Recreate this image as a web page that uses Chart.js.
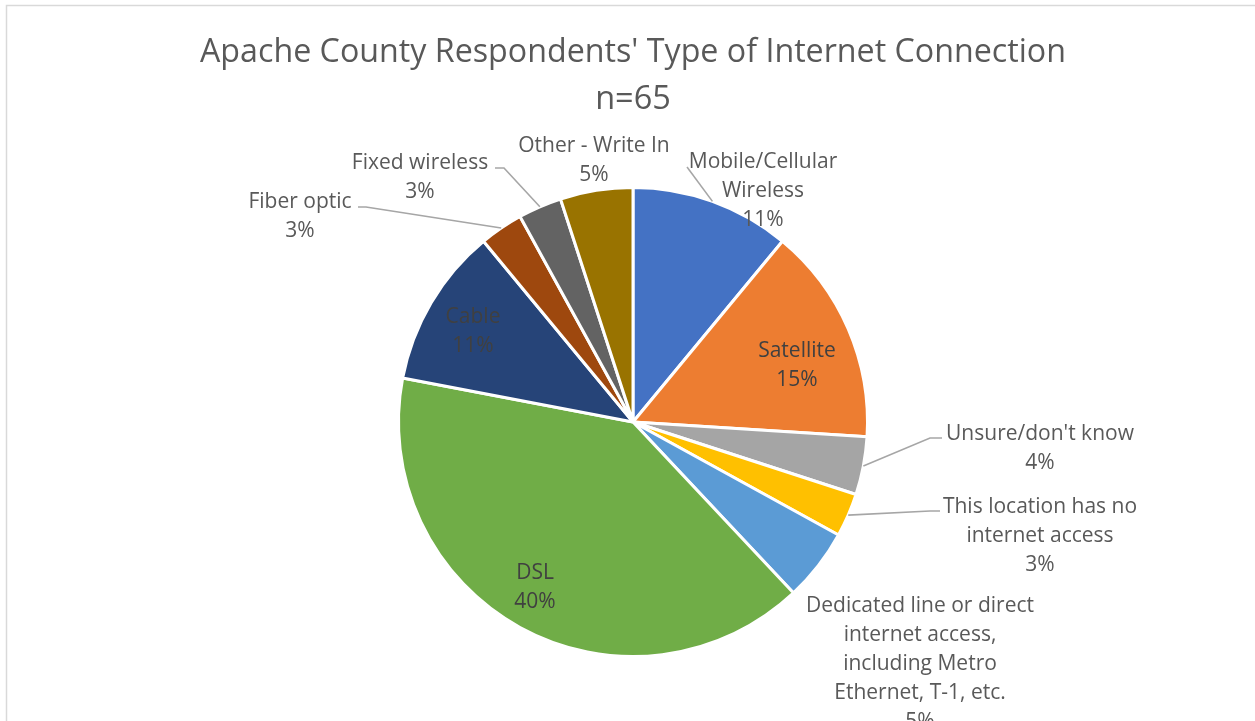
<!DOCTYPE html>
<html>
<head>
<meta charset="utf-8">
<title>Apache County Respondents' Type of Internet Connection</title>
<script src="https://cdn.jsdelivr.net/npm/chart.js@4.4.1/dist/chart.umd.min.js"></script>
<style>
    html, body { margin: 0; padding: 0; background: #ffffff; }
    #wrap { width: 1255px; height: 721px; position: relative; }
</style>
</head>
<body>
<div id="wrap"><canvas id="pieChart"></canvas></div>
<script>
// Connection types, clockwise from 12 o'clock
var categories = [
    ['Mobile/Cellular', 'Wireless'],
    ['Satellite'],
    ["Unsure/don't know"],
    ['This location has no', 'internet access'],
    ['Dedicated line or direct', 'internet access,', 'including Metro', 'Ethernet, T-1, etc.'],
    ['DSL'],
    ['Cable'],
    ['Fiber optic'],
    ['Fixed wireless'],
    ['Other - Write In']
];
// share of respondents, percent
var shares = [11, 15, 4, 3, 5, 40, 11, 3, 3, 5];
var sliceColors = ['#4472C4', '#ED7D31', '#A5A5A5', '#FFC000', '#5B9BD5',
                   '#70AD47', '#264478', '#9E480E', '#636363', '#997300'];

// where each label block sits, measured from the pie centre;
// leader = elbow points (also from the centre) before the line runs to the slice edge
var labelSpots = [
    { dx: 130, dy: -231, color: '#595959', leader: [[54, -255]] },
    { dx: 164, dy: -56, color: '#404040' },
    { dx: 407, dy: 27, color: '#595959', leader: [[309, 16], [297, 16]] },
    { dx: 407, dy: 114, color: '#595959', leader: [[307, 89], [297, 89]] },
    { dx: 287, dy: 242, color: '#595959' },
    { dx: -98, dy: 166, color: '#404040' },
    { dx: -160, dy: -90, color: '#404040' },
    { dx: -333, dy: -205, color: '#595959', leader: [[-275, -215], [-267, -215]] },
    { dx: -213, dy: -244, color: '#595959', leader: [[-138, -254], [-129, -254]] },
    { dx: -39, dy: -261, color: '#595959' }
];

var LINE_GAP = 29;

var frame = {
    id: 'frame',
    beforeDraw: function(chart) {
        var ctx = chart.ctx;
        ctx.save();
        ctx.fillStyle = '#ffffff';
        ctx.fillRect(0, 0, chart.width, chart.height);
        ctx.strokeStyle = '#d9d9d9';
        ctx.lineWidth = 1.5;
        ctx.strokeRect(6.5, 5.5, chart.width + 20, chart.height + 20);
        ctx.restore();
    }
};

var sliceLabels = {
    id: 'sliceLabels',
    afterDatasetsDraw: function(chart) {
        var ctx = chart.ctx;
        var arcs = chart.getDatasetMeta(0).data;
        ctx.save();
        ctx.font = '21px "Open Sans"';
        ctx.textAlign = 'center';
        ctx.textBaseline = 'middle';
        arcs.forEach(function(arc, i) {
            var spot = labelSpots[i];
            var cx = arc.x, cy = arc.y;

            if (spot.leader) {
                var mid = (arc.startAngle + arc.endAngle) / 2;
                ctx.strokeStyle = '#a6a6a6';
                ctx.lineWidth = 1.6;
                ctx.beginPath();
                spot.leader.forEach(function(p, k) {
                    if (k === 0) ctx.moveTo(cx + p[0], cy + p[1]);
                    else ctx.lineTo(cx + p[0], cy + p[1]);
                });
                ctx.lineTo(cx + Math.cos(mid) * arc.outerRadius, cy + Math.sin(mid) * arc.outerRadius);
                ctx.stroke();
            }

            var lines = categories[i].concat([shares[i] + '%']);
            var top = cy + spot.dy - (lines.length - 1) * LINE_GAP / 2;
            ctx.fillStyle = spot.color;
            lines.forEach(function(t, k) {
                ctx.fillText(t, cx + spot.dx, top + k * LINE_GAP);
            });
        });
        ctx.restore();
    }
};

var ctx1 = document.getElementById('pieChart').getContext('2d');
var pieChart = new Chart(ctx1, {
    type: 'pie',
    data: {
        labels: categories,
        datasets: [{
            data: shares,
            backgroundColor: sliceColors,
            borderColor: '#ffffff',
            borderWidth: 3
        }]
    },
    options: {
        responsive: true,
        maintainAspectRatio: false,
        animation: false,
        layout: {
            padding: { top: 0, bottom: 63, left: 200, right: 189 }
        },
        plugins: {
            legend: { display: false },
            tooltip: { enabled: true },
            title: {
                display: true,
                text: ["Apache County Respondents' Type of Internet Connection", 'n=65'],
                color: '#595959',
                font: { family: 'Open Sans', size: 32.5, weight: 'normal', lineHeight: 1.446 },
                padding: { top: 29, bottom: 63 }
            }
        }
    },
    plugins: [frame, sliceLabels]
});
</script>
</body>
</html>
